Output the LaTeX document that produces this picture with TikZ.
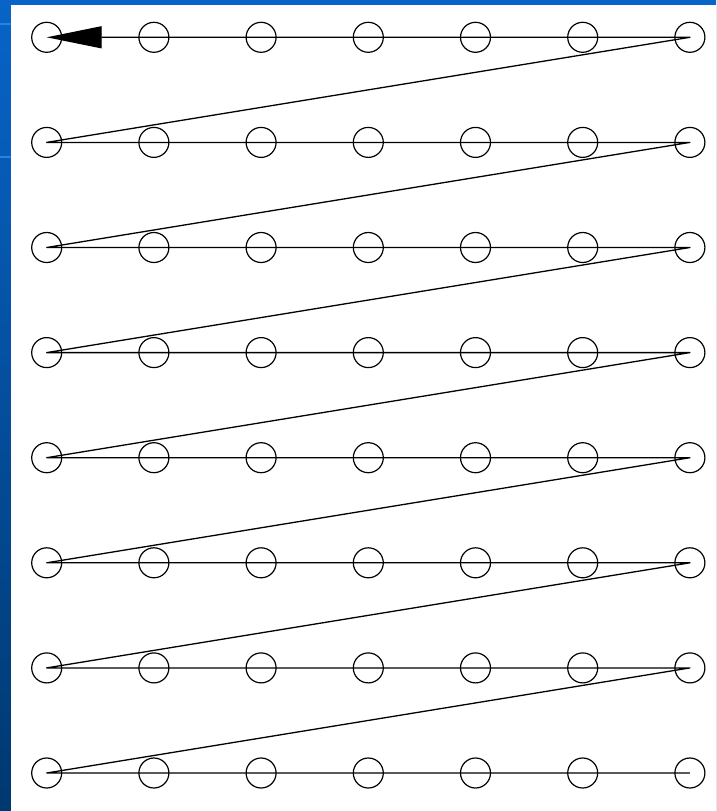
\documentclass[tikz,border=0pt]{standalone}
\usetikzlibrary{arrows.meta}
\definecolor{slidetop}{RGB}{8,100,200}
\definecolor{slidebot}{RGB}{0,56,112}
\definecolor{slideline}{RGB}{40,130,225}
\begin{document}
\begin{tikzpicture}[
  x=1pt, y=-1pt,
  pix/.style={circle, draw=black, line width=1.2pt, minimum size=30pt, inner sep=0pt},
  scan/.style={draw=black, line width=1.3pt, line join=round},
  bigtip/.style={-{Triangle[length=55pt, width=22pt]}}
]
  % === sfondo della diapositiva ===
  \useasboundingbox (0,0) rectangle (716,811);
  \shade[top color=slidetop, bottom color=slidebot] (0,0) rectangle (716,811);
  \draw[slideline, line width=1.5pt] (0,24) -- (11,24);
  \draw[slideline, line width=1.5pt] (0,157) -- (11,157);
  \fill[white] (11,5) rectangle (716,811);

  % === griglia dei campioni: 8 righe x 7 colonne ===
  \foreach \r in {1,...,8} {
    \foreach \c in {1,...,7} {
      \node[pix] (n-\r-\c) at ({46.7+107.2*(\c-1)}, {37.3+105.1*(\r-1)}) {};
    }
  }

  % === percorso di scansione, dal basso verso l'alto ===
  \draw[scan, bigtip] (n-8-7.center) -- (n-8-1.center)
    \foreach \r in {7,6,...,1} { -- (n-\r-7.center) -- (n-\r-1.center) };
\end{tikzpicture}
\end{document}
